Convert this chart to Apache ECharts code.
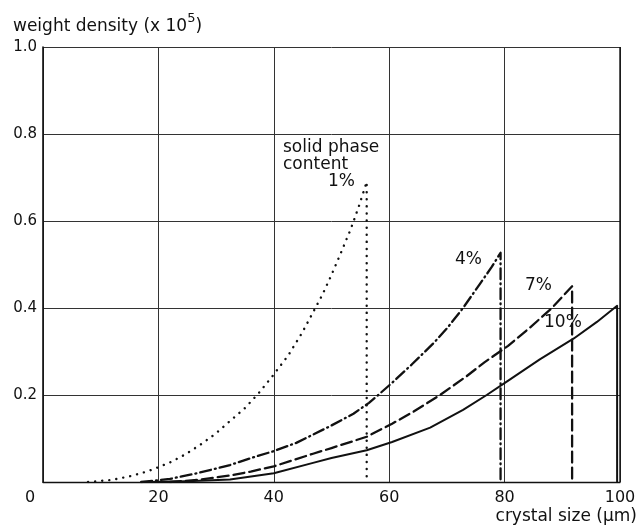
<!DOCTYPE html>
<html>
<head>
<meta charset="utf-8">
<script src="https://cdn.jsdelivr.net/npm/echarts@6/dist/echarts.min.js"></script>
<style>
  html, body { margin: 0; padding: 0; background: #fff; }
  #chart { width: 639px; height: 527px; }
</style>
</head>
<body>
<div id="chart"></div>
<script>
// Crystal size (µm) and weight density (x 10^5) for each solid phase content
const sizes1   = [7.8, 12, 15, 18, 20, 22, 24.6, 27.3, 29.9, 32.4, 35, 37.3, 39.8, 42.5, 44.9, 46.8, 48.4, 50, 51.6, 53.3, 54.8, 56.1, 56.1];
const density1 = [0, 0.005, 0.013, 0.024, 0.034, 0.045, 0.063, 0.086, 0.111, 0.14, 0.17, 0.203, 0.244, 0.291, 0.343, 0.39, 0.43, 0.476, 0.526, 0.58, 0.636, 0.69, 0];

const sizes4   = [17, 22, 26.6, 30, 32.4, 36, 40, 43.9, 46.8, 50, 53.8, 56.5, 58.1, 60.5, 63.9, 67.6, 70, 72.8, 75.7, 77.8, 79.3, 79.3];
const density4 = [0, 0.007, 0.02, 0.031, 0.039, 0.055, 0.071, 0.09, 0.109, 0.13, 0.157, 0.182, 0.2, 0.228, 0.27, 0.318, 0.353, 0.4, 0.455, 0.495, 0.527, 0];

const sizes7   = [22, 27, 32.4, 36, 40, 46.8, 50, 56.1, 60.5, 64, 68.8, 73.4, 76.5, 80.6, 84.4, 88.2, 91.7, 91.7];
const density7 = [0, 0.005, 0.015, 0.024, 0.036, 0.065, 0.078, 0.104, 0.134, 0.16, 0.2, 0.243, 0.275, 0.313, 0.355, 0.4, 0.45, 0];

const sizes10   = [18, 25, 32.4, 40, 46.8, 50, 56.1, 60.5, 67.1, 72.8, 76.9, 80.5, 86.1, 92, 96, 99.5, 99.5];
const density10 = [0, 0.002, 0.006, 0.02, 0.044, 0.055, 0.073, 0.092, 0.125, 0.166, 0.2, 0.232, 0.282, 0.33, 0.368, 0.405, 0];

const xTicks = [0, 20, 40, 60, 80, 100];
const yTicks = [0, 0.2, 0.4, 0.6, 0.8, 1.0];

const FONT = 'DejaVu Sans';
const INK = '#111';

function pairs(xs, ys) {
  return xs.map((x, i) => [x, ys[i]]);
}

function curve(name, xs, ys, dash, width) {
  return {
    name: name,
    type: 'line',
    data: pairs(xs, ys),
    showSymbol: false,
    symbol: 'none',
    smooth: false,
    animation: false,
    lineStyle: { color: INK, width: width, type: dash, cap: 'round', join: 'round' },
    z: 5
  };
}

const chart = echarts.init(document.getElementById('chart'), null, { renderer: 'canvas' });

chart.setOption({
  backgroundColor: '#fff',
  animation: false,
  grid: { left: 43, right: 19, top: 47, bottom: 45, containLabel: false },
  xAxis: {
    type: 'value',
    min: xTicks[0],
    max: xTicks[xTicks.length - 1],
    interval: 20,
    axisLine: { show: true, onZero: false, lineStyle: { color: INK, width: 1.4 } },
    axisTick: { show: false },
    splitLine: { show: true, lineStyle: { color: '#333', width: 1 } },
    axisLabel: {
      color: INK,
      fontFamily: FONT,
      fontSize: 16,
      margin: 8,
      formatter: v => (v === 0 ? '{z|0}' : String(v)),
      rich: { z: { fontFamily: FONT, fontSize: 16, color: INK, padding: [0, 26, 0, 0] } }
    }
  },
  yAxis: {
    type: 'value',
    min: yTicks[0],
    max: yTicks[yTicks.length - 1],
    interval: 0.2,
    axisLine: { show: true, onZero: false, lineStyle: { color: INK, width: 1.6 } },
    axisTick: { show: false },
    splitLine: { show: true, lineStyle: { color: '#333', width: 1 } },
    axisLabel: {
      color: INK,
      fontFamily: FONT,
      fontSize: 15,
      margin: 6,
      formatter: v => (v === 0 ? '' : v.toFixed(1))
    }
  },
  series: [
    curve('1%', sizes1, density1, [0.1, 7], 2.4),
    curve('4%', sizes4, density4, [11, 4, 1, 4], 2.3),
    curve('7%', sizes7, density7, [11, 5], 2.3),
    curve('10%', sizes10, density10, 'solid', 2),
    // right-hand frame at 100 µm
    {
      type: 'line',
      data: [[100, 0], [100, 1]],
      showSymbol: false,
      symbol: 'none',
      animation: false,
      lineStyle: { color: INK, width: 1.4 },
      silent: true,
      z: 4
    }
  ],
  graphic: [
    {
      type: 'text', left: 13, top: 12,
      style: {
        text: '{a|weight density (x 10}{s|5}{a|)}',
        rich: {
          a: { fontFamily: FONT, fontSize: 17, fill: INK, lineHeight: 23, verticalAlign: 'bottom' },
          s: { fontFamily: FONT, fontSize: 13, fill: INK, lineHeight: 23, verticalAlign: 'top' }
        }
      }
    },
    {
      type: 'text', right: 2, top: 508,
      style: { text: 'crystal size (µm)', fontFamily: FONT, fontSize: 17, fill: INK }
    },
    {
      type: 'text', left: 283, top: 139,
      style: { text: 'solid phase', fontFamily: FONT, fontSize: 17, fill: INK }
    },
    {
      type: 'text', left: 283, top: 156,
      style: { text: 'content', fontFamily: FONT, fontSize: 17, fill: INK }
    },
    {
      type: 'text', left: 328, top: 173,
      style: { text: '1%', fontFamily: FONT, fontSize: 17, fill: INK }
    },
    {
      type: 'text', left: 455, top: 251,
      style: { text: '4%', fontFamily: FONT, fontSize: 17, fill: INK }
    },
    {
      type: 'text', left: 525, top: 277,
      style: { text: '7%', fontFamily: FONT, fontSize: 17, fill: INK }
    },
    {
      type: 'text', left: 544, top: 314,
      style: { text: '10%', fontFamily: FONT, fontSize: 17, fill: INK }
    }
  ]
});
</script>
</body>
</html>
